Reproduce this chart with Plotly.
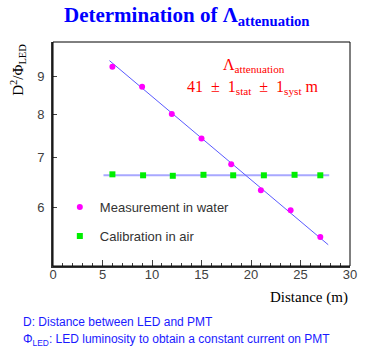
import plotly.graph_objects as go

# Data
x_water = [6, 9, 12, 15, 18, 21, 24, 27]
y_water = [9.26, 8.71, 8.00, 7.42, 6.85, 6.32, 5.94, 5.47]
x_air = [6.0, 9.1, 12.1, 15.2, 18.2, 21.3, 24.4, 27.0]
y_air = [6.64, 6.62, 6.61, 6.63, 6.62, 6.62, 6.63, 6.62]
fit_water_x = [5.7, 27.8]
fit_water_y = [9.44, 5.34]
fit_air_x = [5.1, 27.9]
fit_air_y = [6.62, 6.62]
x_ticks = [0, 5, 10, 15, 20, 25, 30]
y_ticks = [6, 7, 8, 9]

TICKCOL = "#404040"
SANS = "Liberation Sans, Arial, sans-serif"
SERIF = "Liberation Serif, Times New Roman, serif"

fig = go.Figure()
fig.add_trace(go.Scatter(x=fit_air_x, y=fit_air_y, mode="lines",
                         line=dict(color="#a8a8ff", width=2), showlegend=False, hoverinfo="skip"))
fig.add_trace(go.Scatter(x=fit_water_x, y=fit_water_y, mode="lines",
                         line=dict(color="#5a5aff", width=1), showlegend=False, hoverinfo="skip"))
fig.add_trace(go.Scatter(x=x_water, y=y_water, mode="markers", name="Measurement in water",
                         marker=dict(color="#ff00ff", size=6, symbol="circle"), legend="legend"))
fig.add_trace(go.Scatter(x=x_air, y=y_air, mode="markers", name="Calibration in air",
                         marker=dict(color="#00ee00", size=6, symbol="square"), legend="legend2"))

# frame (thin top/right)
fig.add_shape(type="rect", xref="paper", yref="paper", x0=0, y0=0, x1=1, y1=1,
              line=dict(color="black", width=1), layer="above")

ann = []
ann.append(dict(text="<b>Determination of Λ<sub>attenuation</sub></b>", xref="paper", yref="paper",
                x=(190 - 53) / 304, y=1 + (42 - 16) / 224, xanchor="center", yanchor="middle",
                showarrow=False, font=dict(family=SERIF, size=21, color="#0000ff")))
ann.append(dict(text="Λ<sub>attenuation</sub>", xref="paper", yref="paper",
                x=(259 - 53) / 304, y=1 - (66 - 42) / 224, xanchor="center", yanchor="middle",
                showarrow=False, font=dict(family=SERIF, size=16, color="#ff0000")))
ann.append(dict(text="41 &nbsp;± &nbsp;1<sub>stat</sub> &nbsp;± &nbsp;1<sub>syst</sub> m", xref="paper", yref="paper",
                x=(258 - 53) / 304, y=1 - (88 - 42) / 224, xanchor="center", yanchor="middle",
                showarrow=False, font=dict(family=SERIF, size=16, color="#ff0000")))
ann.append(dict(text="D<sup>2</sup>/Φ<sub>LED</sub>", xref="paper", yref="paper",
                x=(17 - 53) / 304, y=1 - (70 - 42) / 224, xanchor="center", yanchor="middle",
                textangle=-90, showarrow=False, font=dict(family=SERIF, size=15, color="black")))
ann.append(dict(text="Distance (m)", xref="paper", yref="paper",
                x=1, y=-(297 - 266) / 224, xanchor="right", yanchor="middle",
                showarrow=False, font=dict(family=SERIF, size=15, color="black")))
ann.append(dict(text="D: Distance between LED and PMT", xref="paper", yref="paper",
                x=(20 - 53) / 304, y=-(322 - 266) / 224, xanchor="left", yanchor="middle",
                showarrow=False, font=dict(family=SANS, size=12, color="#1a1aff")))
ann.append(dict(text="Φ<sub>LED</sub>: LED luminosity to obtain a constant current on PMT", xref="paper", yref="paper",
                x=(20 - 53) / 304, y=-(340 - 266) / 224, xanchor="left", yanchor="middle",
                showarrow=False, font=dict(family=SANS, size=12, color="#1a1aff")))

fig.update_layout(
    width=365, height=352,
    margin=dict(l=53, r=8, t=42, b=86, pad=0),
    paper_bgcolor="white", plot_bgcolor="white",
    annotations=ann,
    legend=dict(x=(60 - 53) / 304, y=1 - (207 - 42) / 224, xanchor="left", yanchor="middle",
                bgcolor="rgba(0,0,0,0)", font=dict(family=SANS, size=13, color="#333333")),
    legend2=dict(x=(60 - 53) / 304, y=1 - (236 - 42) / 224, xanchor="left", yanchor="middle",
                 bgcolor="rgba(0,0,0,0)", font=dict(family=SANS, size=13, color="#333333")),
    xaxis=dict(range=[0, 30], tickvals=x_ticks, ticks="inside", ticklen=6, tickcolor=TICKCOL,
               minor=dict(dtick=1, ticks="inside", ticklen=3, tickcolor=TICKCOL),
               showgrid=False, zeroline=False, showline=True, linewidth=2, linecolor="#333333",
               tickfont=dict(family=SANS, size=13, color=TICKCOL), ticklabelstandoff=-5),
    yaxis=dict(type="log", range=[0.69897, 1.0], tickvals=y_ticks, ticktext=[str(v) for v in y_ticks],
               ticks="inside", ticklen=4, tickcolor=TICKCOL,
               showgrid=False, zeroline=False, showline=True, linewidth=2, linecolor="#333333",
               tickfont=dict(family=SANS, size=13, color=TICKCOL), ticklabelstandoff=4),
)

fig.write_html("out.html", config={"displayModeBar": False},
               post_script="document.documentElement.style.margin='0';document.body.style.margin='0';document.body.style.padding='0';")
